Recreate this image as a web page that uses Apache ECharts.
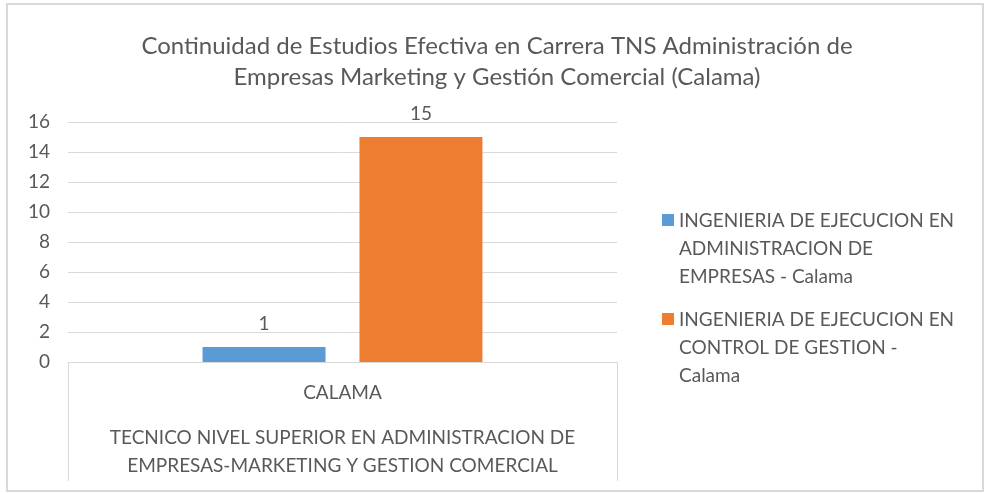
<!DOCTYPE html>
<html>
<head>
<meta charset="utf-8">
<script src="https://cdn.jsdelivr.net/npm/echarts@6/dist/echarts.min.js"></script>
<style>
  html, body { margin: 0; padding: 0; background: #fff; }
  #chart { width: 985px; height: 493px; }
</style>
</head>
<body>
<div id="chart"></div>
<script>
const title = "Continuidad de Estudios Efectiva en Carrera TNS Administración de\nEmpresas Marketing y Gestión Comercial (Calama)";
const categories = ["CALAMA"];
const groupLabel = ["TECNICO NIVEL SUPERIOR EN ADMINISTRACION DE\nEMPRESAS-MARKETING Y GESTION COMERCIAL"];
const seriesNames = [
    "INGENIERIA DE EJECUCION EN\nADMINISTRACION DE\nEMPRESAS - Calama",
    "INGENIERIA DE EJECUCION EN\nCONTROL DE GESTION -\nCalama",
];
const adminValues = [1];
const controlValues = [15];

const textColor = "#595959";
const lineColor = "#d9d9d9";
const font = "Lato";

// square at the top of a tall box, so the marker sits on the first legend line
const legendIcon = "path://M0,0h12v12h-12z M0,70h0.01v0.01h-0.01z";

const chart = echarts.init(document.getElementById("chart"));

const option = {
    backgroundColor: "#ffffff",
    color: ["#5b9bd5", "#ed7d31"],
    animation: false,
    textStyle: { fontFamily: font },
    title: {
        text: title,
        left: 492,
        textAlign: "center",
        top: 26,
        textStyle: {
            color: textColor,
            fontSize: 24,
            fontWeight: "normal",
            fontFamily: font,
            lineHeight: 31,
        },
    },
    graphic: [
        {
            type: "rect",
            shape: { x: 7, y: 4, width: 976, height: 487 },
            style: { fill: null, stroke: lineColor, lineWidth: 2 },
            silent: true,
        },
    ],
    legend: {
        orient: "vertical",
        left: 657,
        top: 202,
        itemWidth: 12,
        itemHeight: 70,
        itemGap: 15,
        icon: legendIcon,
        textStyle: {
            color: textColor,
            fontSize: 19,
            lineHeight: 28,
            fontFamily: font,
        },
    },
    grid: { left: 68, right: 368, top: 122, bottom: 131 },
    xAxis: [
        {
            type: "category",
            data: categories,
            axisLine: { lineStyle: { color: lineColor } },
            axisTick: { show: true, length: 119, interval: 0, lineStyle: { color: lineColor } },
            axisLabel: { color: textColor, fontSize: 19, margin: 21, fontFamily: font },
        },
        {
            type: "category",
            data: groupLabel,
            position: "bottom",
            offset: 62,
            axisLine: { show: false },
            axisTick: { show: false },
            axisLabel: { color: textColor, fontSize: 19, lineHeight: 28, fontFamily: font, margin: 0 },
        },
    ],
    yAxis: {
        type: "value",
        min: 0,
        max: 16,
        interval: 2,
        axisLine: { show: false },
        axisTick: { show: false },
        splitLine: { lineStyle: { color: lineColor } },
        axisLabel: { color: textColor, fontSize: 19, margin: 18, fontFamily: font },
    },
    series: [
        {
            name: seriesNames[0],
            type: "bar",
            data: adminValues,
            barWidth: "22.4%",
            barGap: "27.6%",
            label: { show: true, position: "top", color: textColor, fontSize: 19, distance: 14, fontFamily: font },
        },
        {
            name: seriesNames[1],
            type: "bar",
            data: controlValues,
            barWidth: "22.4%",
            label: { show: true, position: "top", color: textColor, fontSize: 19, distance: 14, fontFamily: font },
        },
    ],
};

chart.setOption(option);
window.addEventListener("resize", () => chart.resize());
</script>
</body>
</html>
